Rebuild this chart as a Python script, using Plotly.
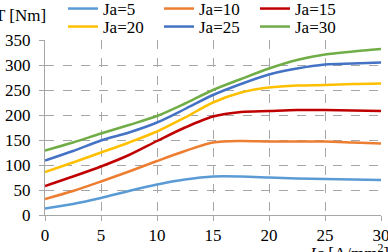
import plotly.graph_objects as go

x_vals = [0, 2.5, 5, 7.5, 10, 12.5, 15, 17.5, 20, 22.5, 25, 27.5, 30]
ja5 = [13, 22, 34, 48, 61, 71, 77, 77, 75, 73, 72, 71, 70]
ja10 = [32, 48, 67, 87, 108, 128, 145, 148, 147, 147, 147, 145, 143]
ja15 = [58, 77, 97, 120, 148, 175, 197, 206, 208, 210, 210, 209, 208]
ja20 = [86, 105, 125, 145, 167, 195, 225, 245, 255, 259, 260, 262, 263]
ja25 = [109, 128, 149, 165, 185, 212, 240, 262, 281, 293, 301, 303, 305]
ja30 = [129, 145, 163, 180, 198, 223, 250, 272, 293, 310, 321, 327, 332]
names = ["Ja=5", "Ja=10", "Ja=15", "Ja=20", "Ja=25", "Ja=30"]
colors = ["#5B9BD5", "#ED7D31", "#C00000", "#FFC000", "#4472C4", "#70AD47"]
series = [ja5, ja10, ja15, ja20, ja25, ja30]

FONT = "Liberation Serif"
FS = 17
TXT = "#000"
L, R, T, B = 45, 7, 40, 37
W, H = 388, 252
PW, PH = W - L - R, H - T - B

def px_x(p):
    return (p - L) / PW

def px_y(p):
    return (H - B - p) / PH

fig = go.Figure()
for i, (n, c, s) in enumerate(zip(names, colors, series)):
    fig.add_trace(go.Scatter(x=x_vals, y=s, mode="lines", name=n,
                             legend="legend" if i < 3 else "legend2",
                             line=dict(color=c, width=2.5, shape="spline", smoothing=0.8)))

leg_common = dict(orientation="h", xref="paper", yref="paper",
                  xanchor="left", yanchor="middle",
                  entrywidth=51, entrywidthmode="pixels",
                  font=dict(family=FONT, size=FS, color=TXT),
                  bgcolor="rgba(0,0,0,0)", borderwidth=0, itemwidth=30)

axis_common = dict(showgrid=True, gridcolor="#A6A6A6", griddash="dash", gridwidth=1,
                   showline=True, linecolor="#A6A6A6", linewidth=1,
                   ticks="outside", ticklen=5, tickcolor="#A6A6A6",
                   ticklabeloverflow="allow",
                   zeroline=False, tickfont=dict(family=FONT, size=FS, color=TXT))

fig.update_layout(
    width=W, height=H,
    margin=dict(l=L, r=R, t=T, b=B, autoexpand=False),
    paper_bgcolor="white", plot_bgcolor="white",
    font=dict(family=FONT, size=FS, color=TXT),
    showlegend=True,
    legend=dict(x=px_x(63), y=px_y(9), **leg_common),
    legend2=dict(x=px_x(63), y=px_y(27), **leg_common),
    xaxis=dict(range=[0, 30], tickvals=[0, 5, 10, 15, 20, 25, 30],
               ticklabelstandoff=0, **axis_common),
    yaxis=dict(range=[0, 350], tickvals=[0, 50, 100, 150, 200, 250, 300, 350],
               ticklabelstandoff=5, **axis_common),
    annotations=[
        dict(text="T [Nm]", xref="paper", yref="paper", x=px_x(48), y=px_y(15),
             xanchor="right", yanchor="middle", showarrow=False,
             font=dict(family=FONT, size=FS, color=TXT)),
        dict(text="<i>Ja</i> [A/mm<sup>2</sup>]", xref="paper", yref="paper",
             x=px_x(306), y=px_y(239), xanchor="left", yanchor="top", showarrow=False,
             font=dict(family=FONT, size=FS, color=TXT)),
    ],
)
fig.write_html("out.html")
